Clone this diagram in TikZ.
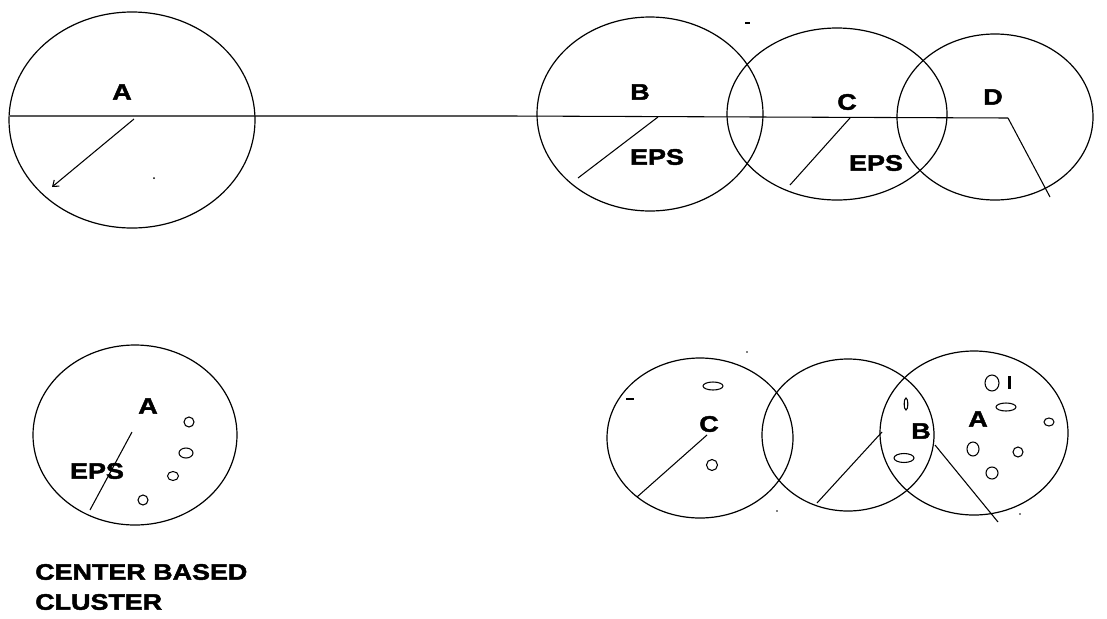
\documentclass[tikz,border=0pt]{standalone}
\usepackage{fontspec}
\newfontfamily\labfont{Liberation Sans}[FakeStretch=1.2, BoldFeatures={FakeBold=2}]
\usetikzlibrary{arrows.meta}
\tikzset{
  ell/.style={draw=black, line width=0.9pt},
  ln/.style={draw=black, line width=0.8pt},
  lab/.style={font=\labfont\bfseries\fontsize{16.8}{18}\selectfont, inner sep=0pt, text=black},
  pt/.style={draw=black, line width=0.8pt},
}
\begin{document}
\begin{tikzpicture}[x=0.75pt,y=-0.75pt]
\useasboundingbox (0,0) rectangle (1107,618);
% ---------- top row ----------
\draw[ell] (132,120) ellipse [x radius=123, y radius=108];
\draw[ell] (650,114) ellipse [x radius=113, y radius=97];
\draw[ell] (837,114) ellipse [x radius=110, y radius=86];
\draw[ell] (995,117) ellipse [x radius=98, y radius=83];
\coordinate (hl) at (10,116);
\coordinate (hm) at (510,116);
\coordinate (hr) at (1008,118);
\draw[ln] (hl) -- (hm) -- (hr);
\coordinate (aS) at (134,119);
\coordinate (aE) at (52,187);
\draw[ln, -{Straight Barb[length=4pt,width=6pt]}] (aS) -- (aE);
\fill (154,178) circle [radius=1];
\fill (745,22) rectangle (750,23.5);
\node[lab] (tA) at (122,92) {A};
\node[lab] (tB) at (640,92) {B};
\node[lab] (tC) at (847,102) {C};
\node[lab] (tD) at (993,97) {D};
\node[lab] (eB) at (657,157) {EPS};
\node[lab] (eC) at (876,163) {EPS};
\coordinate (bS) at (658,117);
\coordinate (bE) at (578,178);
\draw[ln] (bS) -- (bE);
\coordinate (cS) at (850,118);
\coordinate (cE) at (790,185);
\draw[ln] (cS) -- (cE);
\coordinate (dE) at (1050,197);
\draw[ln] (hr) -- (dE);
% ---------- bottom left ----------
\draw[ell] (135,435) ellipse [x radius=102, y radius=90];
\node[lab] (bA) at (148,406) {A};
\node[lab] (bEps) at (97,471) {EPS};
\coordinate (lS) at (132,432);
\coordinate (lE) at (90,510);
\draw[ln] (lS) -- (lE);
\draw[pt] (189,422) ellipse [x radius=5, y radius=5];
\draw[pt] (186,453) ellipse [x radius=7, y radius=5];
\draw[pt] (173,476) ellipse [x radius=5.5, y radius=4.5];
\draw[pt] (143,500) ellipse [x radius=5, y radius=5];
\node[lab, anchor=west] (t1) at (35,572) {CENTER BASED};
\node[lab, anchor=west] (t2) at (35,602) {CLUSTER};
% ---------- bottom right ----------
\draw[ell] (700,438) ellipse [x radius=93, y radius=80];
\draw[ell] (848,435) ellipse [x radius=86, y radius=76];
\draw[ell] (974,433) ellipse [x radius=94, y radius=82];
\node[lab] (rC) at (709,424) {C};
\node[lab] (rB) at (921,431) {B};
\node[lab] (rA) at (978,419) {A};
\coordinate (r1S) at (707,435);
\coordinate (r1E) at (637,497);
\draw[ln] (r1S) -- (r1E);
\coordinate (r2S) at (882,432);
\coordinate (r2E) at (817,503);
\draw[ln] (r2S) -- (r2E);
\coordinate (r3S) at (935,445);
\coordinate (r3E) at (998,522);
\draw[ln] (r3S) -- (r3E);
\draw[pt] (713,386) ellipse [x radius=10, y radius=4];
\draw[pt] (712,465) ellipse [x radius=5.5, y radius=5.5];
\fill (626,398) rectangle (634,400);
\fill (747,352) circle [radius=0.9];
\fill (777,511) circle [radius=0.9];
\draw[pt] (992,383) ellipse [x radius=7, y radius=8];
\fill (1007.5,376) rectangle (1010.5,389);
\draw[pt] (1006,407) ellipse [x radius=10, y radius=4];
\draw[pt] (906,404) ellipse [x radius=1.8, y radius=6];
\draw[pt] (904,458) ellipse [x radius=10, y radius=4.5];
\draw[pt] (1049,422) ellipse [x radius=5, y radius=4];
\draw[pt] (973,449) ellipse [x radius=6, y radius=7];
\draw[pt] (1018,452) ellipse [x radius=5, y radius=5];
\draw[pt] (992,473) ellipse [x radius=6, y radius=6];
\fill (1020,514) circle [radius=0.9];
\end{tikzpicture}
\end{document}
